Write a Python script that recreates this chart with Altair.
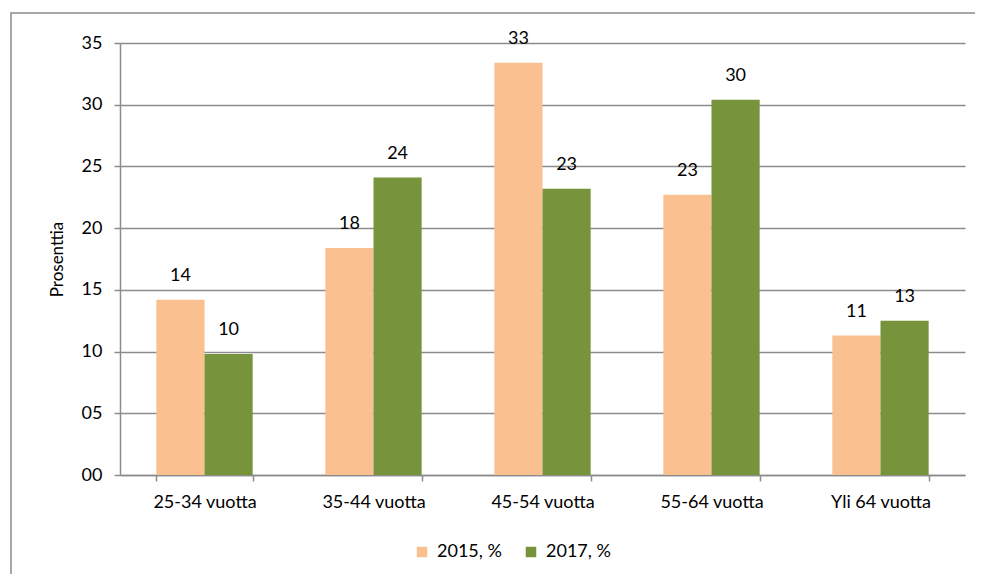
import altair as alt
import pandas as pd

categories = ["25-34 vuotta", "35-44 vuotta", "45-54 vuotta", "55-64 vuotta", "Yli 64 vuotta"]
series = ["2015, %", "2017, %"]
values_2015 = [14.2, 18.4, 33.4, 22.7, 11.3]
values_2017 = [9.8, 24.1, 23.2, 30.4, 12.5]
colors = ["#FAC090", "#77933C"]

rows = []
for c, a, b in zip(categories, values_2015, values_2017):
    rows.append({"cat": c, "series": series[0], "value": a})
    rows.append({"cat": c, "series": series[1], "value": b})
df = pd.DataFrame(rows)

FONT = "Lato"
GRID = "#8C8C8C"

x_enc = alt.X(
    "cat:N", sort=categories, title=None,
    scale=alt.Scale(paddingInner=0.43, paddingOuter=0.215),
    axis=alt.Axis(tickBand="extent", labelAngle=0, labelFont=FONT, labelFontSize=18,
                  labelColor="#000", labelPadding=12, tickSize=6, tickColor=GRID,
                  tickWidth=1.5, domainColor=GRID, domainWidth=1.5, grid=False),
)
y_enc = alt.Y(
    "value:Q", title="Prosenttia",
    scale=alt.Scale(domain=[0, 35], nice=False),
    axis=alt.Axis(values=[0, 5, 10, 15, 20, 25, 30, 35], format="02d",
                  labelFont=FONT, labelFontSize=18, labelColor="#000", labelPadding=12,
                  tickSize=6, tickColor=GRID, tickWidth=1.5, domainColor=GRID, domainWidth=1.5,
                  gridColor=GRID, gridWidth=1.5,
                  titleFont=FONT, titleFontSize=17, titleFontWeight="normal", titleColor="#000",
                  titleX=-63, titleY=216, titleAlign="center", titleBaseline="middle", titleAngle=270),
)
xoff = alt.XOffset("series:N", sort=series, scale=alt.Scale(paddingInner=0, paddingOuter=0))

frame = pd.DataFrame({"k": [0]})
border = alt.Chart(frame).mark_rect(fill=None, stroke="#8C8C8C", strokeWidth=1.5).encode(
    x=alt.value(-109), x2=alt.value(920), y=alt.value(-30), y2=alt.value(620))

bars = alt.Chart(df).mark_bar().encode(
    x=x_enc, y=y_enc, xOffset=xoff,
    color=alt.Color("series:N", sort=series, scale=alt.Scale(domain=series, range=colors),
                    legend=alt.Legend(title=None, orient="none", legendX=293, legendY=500,
                                      direction="horizontal", symbolType="square", symbolSize=110,
                                      symbolStrokeWidth=0, labelFont=FONT, labelFontSize=18,
                                      labelColor="#000", labelOffset=6, columnPadding=20, padding=0)),
)

labels = alt.Chart(df).mark_text(font=FONT, fontSize=18, color="#000", dy=-24, baseline="middle").encode(
    x=alt.X("cat:N", sort=categories), y="value:Q", xOffset=xoff,
    text=alt.Text("value:Q", format=".0f"),
)

chart = alt.layer(border, bars, labels).properties(
    width=845, height=432,
    autosize=alt.AutoSizeParams(type="none"),
    padding={"left": 112, "top": 35, "right": 10, "bottom": 99},
).configure_view(stroke=None)

chart.save("out.html", embed_options={"renderer": "svg", "actions": False})
